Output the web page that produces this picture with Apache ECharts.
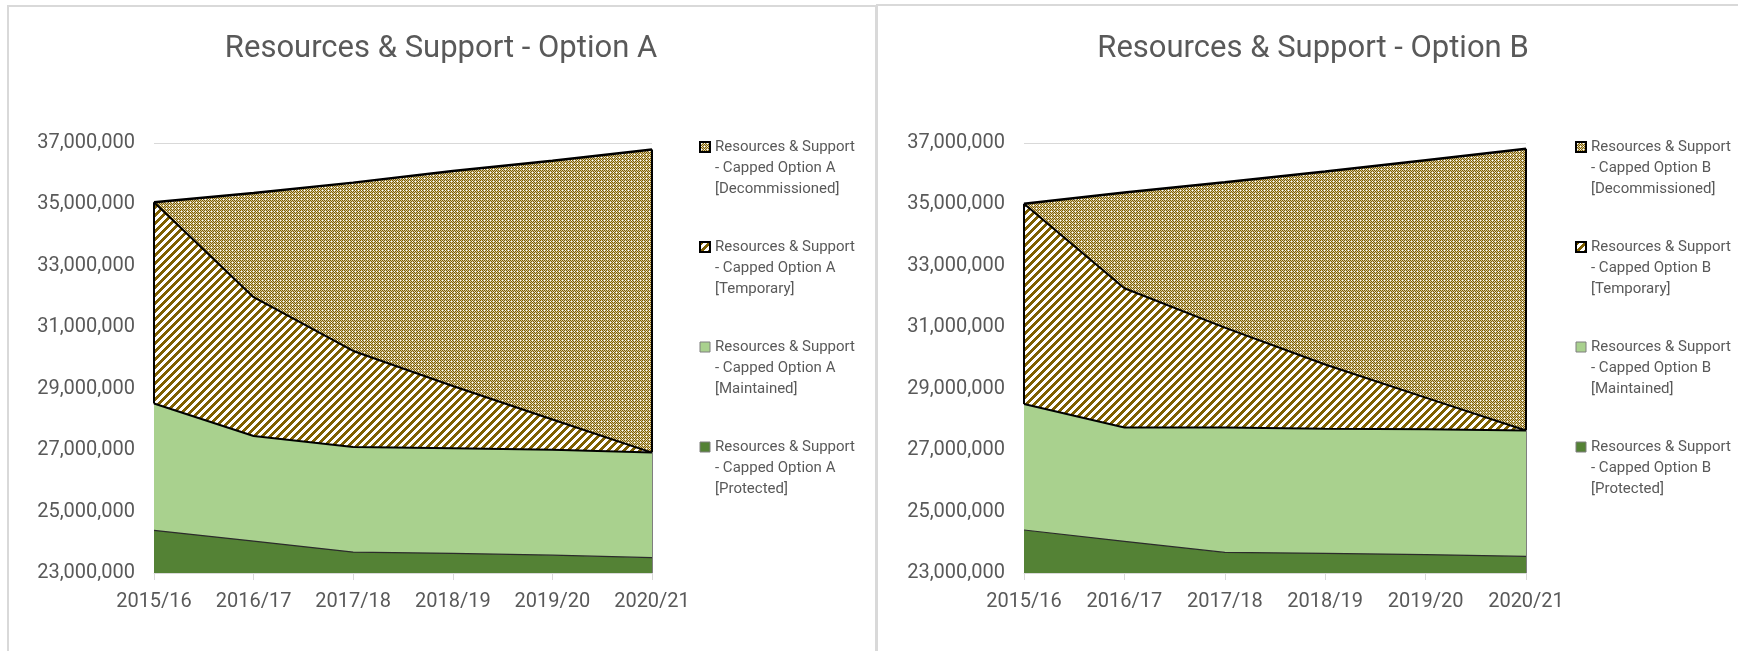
<!DOCTYPE html>
<html>
<head>
<meta charset="utf-8">
<title>Resources &amp; Support</title>
<script src="https://cdn.jsdelivr.net/npm/echarts@6/dist/echarts.min.js"></script>
<style>
  body { margin: 0; background: #fff; overflow: hidden; }
  .frame { position: absolute; box-sizing: border-box; border: 2px solid #d9d9d9; }
  .chart { position: absolute; top: 0; height: 651px; }
</style>
</head>
<body>
<div class="frame" style="left:7px;top:5px;width:870px;height:700px"></div>
<div class="frame" style="left:876px;top:4px;width:900px;height:700px"></div>
<div id="chartA" class="chart" style="left:0;width:876px"></div>
<div id="chartB" class="chart" style="left:876px;width:862px"></div>
<script>
const categories = ['2015/16', '2016/17', '2017/18', '2018/19', '2019/20', '2020/21']

// Option A (stacked, bottom to top)
const protectedA = [24390000, 24040000, 23680000, 23640000, 23580000, 23500000]
const maintainedA = [4130000, 3420000, 3420000, 3420000, 3430000, 3420000]
const temporaryA = [6550000, 4520000, 3130000, 2030000, 990000, 0]
const decommissionedA = [0, 3390000, 5480000, 7000000, 8420000, 9870000]

// Option B
const protectedB = [24400000, 24030000, 23670000, 23640000, 23600000, 23540000]
const maintainedB = [4100000, 3710000, 4070000, 4060000, 4080000, 4100000]
const temporaryB = [6520000, 4530000, 3250000, 2090000, 1030000, 0]
const decommissionedB = [0, 3120000, 4730000, 6280000, 7730000, 9170000]

const yMin = 23000000
const yMax = 37000000

const OLIVE = '#7f6000'
const TEXT = '#595959'

// fill patterns like the Excel ones
function dottedPattern() {
  const c = document.createElement('canvas')
  c.width = 6
  c.height = 6
  const ctx = c.getContext('2d')
  for (let x = 0; x < 6; x++) {
    for (let y = 0; y < 6; y++) {
      if (x % 3 === 1 && y % 3 === 1) ctx.fillStyle = '#ffffff'
      else if ((x + y) % 2 === 0) ctx.fillStyle = OLIVE
      else ctx.fillStyle = '#d3c59c'
      ctx.fillRect(x, y, 1, 1)
    }
  }
  return { image: c, repeat: 'repeat' }
}

function stripePattern() {
  const c = document.createElement('canvas')
  c.width = 8
  c.height = 8
  const ctx = c.getContext('2d')
  for (let x = 0; x < 8; x++) {
    for (let y = 0; y < 8; y++) {
      ctx.fillStyle = (x + y) % 8 < 4 ? OLIVE : '#ffffff'
      ctx.fillRect(x, y, 1, 1)
    }
  }
  return { image: c, repeat: 'repeat' }
}

function buildOption(letter, prot, maint, temp, decom, layout) {
  const names = ['Protected', 'Maintained', 'Temporary', 'Decommissioned'].map(
    s => 'Resources & Support - Capped Option ' + letter + ' [' + s + ']'
  )
  const last = categories.length - 1
  const cumMaint = prot.map((v, i) => v + maint[i])
  const cumTemp = cumMaint.map((v, i) => v + temp[i])
  const total = cumTemp.map((v, i) => v + decom[i])
  const dots = dottedPattern()
  const stripes = stripePattern()

  return {
    animation: false,
    title: {
      text: 'Resources & Support - Option ' + letter,
      left: layout.titleX,
      top: 29,
      textAlign: 'center',
      textStyle: { fontFamily: 'Roboto', fontSize: 31, fontWeight: 'normal', color: TEXT }
    },
    legend: {
      orient: 'vertical',
      left: layout.legendX,
      top: 94.5,
      padding: 0,
      itemGap: -5,
      itemWidth: 10,
      itemHeight: 10,
      icon: 'rect',
      // two blank lines first so the icon sits beside the first text line
      formatter: name => '\n\n' + name.replace(' - ', '\n- ').replace(' [', '\n['),
      textStyle: {
        fontFamily: 'Roboto',
        fontSize: 15,
        lineHeight: 21,
        color: TEXT
      },
      data: [
        { name: names[3], itemStyle: { color: dots, borderColor: '#000', borderWidth: 2 } },
        { name: names[2], itemStyle: { color: stripes, borderColor: '#000', borderWidth: 2 } },
        { name: names[1], itemStyle: { color: '#a9d18e', borderColor: '#7f7f7f', borderWidth: 1 } },
        { name: names[0], itemStyle: { color: '#548235', borderColor: '#7f7f7f', borderWidth: 1 } }
      ]
    },
    grid: {
      left: layout.gridLeft,
      width: layout.gridWidth,
      top: 143,
      height: 430
    },
    xAxis: {
      type: 'category',
      data: categories,
      boundaryGap: false,
      axisLine: { lineStyle: { color: '#d9d9d9', width: 1 } },
      axisTick: { show: true, length: 7, lineStyle: { color: '#d9d9d9' } },
      axisLabel: { fontFamily: 'Roboto', fontSize: 20, color: TEXT, margin: 19 }
    },
    yAxis: {
      type: 'value',
      min: yMin,
      max: yMax,
      interval: 1000000,
      axisLine: { show: false },
      axisTick: { show: false },
      splitLine: { lineStyle: { color: ['#d9d9d9', 'rgba(0,0,0,0)'], width: 1 } },
      axisLabel: {
        fontFamily: 'Roboto',
        fontSize: 20,
        color: TEXT,
        margin: layout.yLabelMargin,
        formatter: v => (v % 2000000 === 1000000 ? v.toLocaleString('en-US') : '')
      }
    },
    series: [
      {
        name: names[0],
        type: 'line',
        stack: 'total',
        z: 5,
        symbol: 'none',
        data: prot,
        itemStyle: { color: '#548235' },
        lineStyle: { color: '#2b2b2b', width: 1.2 },
        areaStyle: { color: '#548235', opacity: 1 }
      },
      {
        name: names[1],
        type: 'line',
        stack: 'total',
        z: 4,
        symbol: 'none',
        data: maint,
        itemStyle: { color: '#a9d18e' },
        lineStyle: { color: '#000', width: 2 },
        areaStyle: { color: '#a9d18e', opacity: 1 }
      },
      {
        name: names[2],
        type: 'line',
        stack: 'total',
        z: 3,
        symbol: 'none',
        data: temp,
        itemStyle: { color: OLIVE },
        lineStyle: { color: '#000', width: 2 },
        areaStyle: { color: stripes, opacity: 1 }
      },
      {
        name: names[3],
        type: 'line',
        stack: 'total',
        z: 2,
        symbol: 'none',
        data: decom,
        itemStyle: { color: OLIVE },
        lineStyle: { color: '#000', width: 2.5 },
        areaStyle: { color: dots, opacity: 1 }
      },
      {
        // outline edges at the first and last category
        type: 'line',
        z: 6,
        data: [],
        markLine: {
          silent: true,
          symbol: 'none',
          label: { show: false },
          data: [
            [
              { coord: [categories[0], cumMaint[0]], lineStyle: { color: '#000', width: 2, type: 'solid' } },
              { coord: [categories[0], cumTemp[0]] }
            ],
            [
              { coord: [categories[last], cumMaint[last]], lineStyle: { color: '#000', width: 2, type: 'solid' } },
              { coord: [categories[last], total[last]] }
            ],
            [
              { coord: [categories[last], yMin], lineStyle: { color: '#7f7f7f', width: 1, type: 'solid' } },
              { coord: [categories[last], cumMaint[last]] }
            ]
          ]
        }
      }
    ]
  }
}

const chartA = echarts.init(document.getElementById('chartA'))
chartA.setOption(buildOption('A', protectedA, maintainedA, temporaryA, decommissionedA, {
  titleX: 436, legendX: 699, gridLeft: 154, gridWidth: 498, yLabelMargin: 19
}))

const chartB = echarts.init(document.getElementById('chartB'))
chartB.setOption(buildOption('B', protectedB, maintainedB, temporaryB, decommissionedB, {
  titleX: 432, legendX: 699, gridLeft: 148, gridWidth: 502, yLabelMargin: 19
}))
</script>
</body>
</html>
